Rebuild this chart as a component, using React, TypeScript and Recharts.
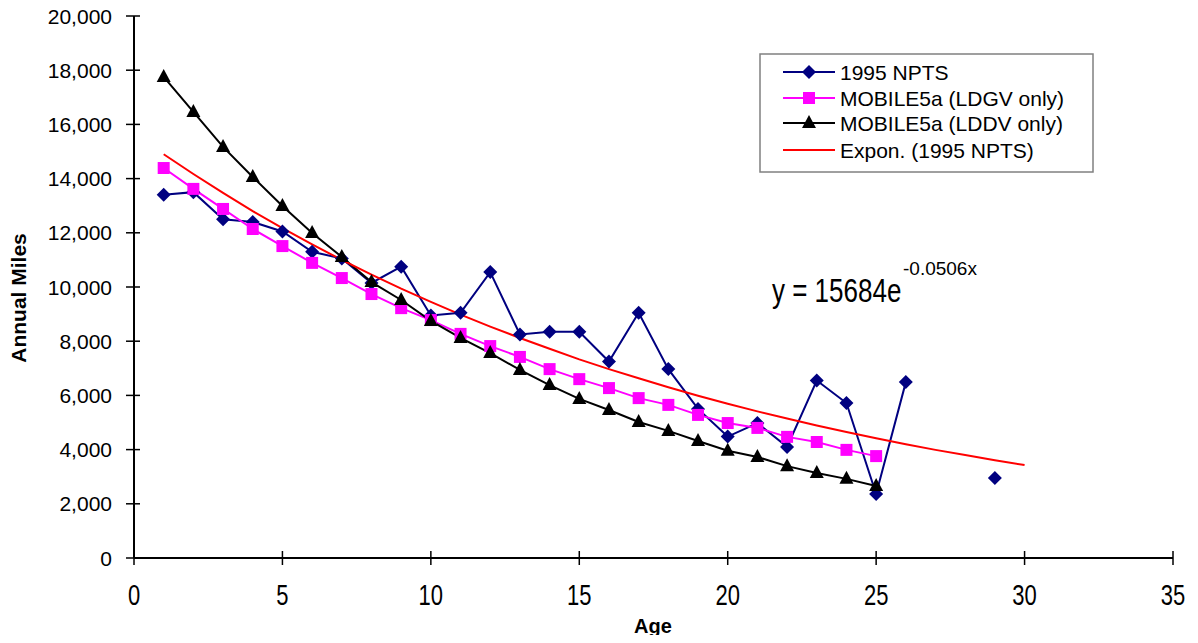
import React from "react";
import { ComposedChart, Line, XAxis, YAxis, Customized } from "recharts";

const FONT = '"Liberation Sans", Arial, sans-serif';

const ages = [1, 2, 3, 4, 5, 6, 7, 8, 9, 10, 11, 12, 13, 14, 15, 16, 17, 18, 19, 20, 21, 22, 23, 24, 25, 26, 27, 28, 29, 30];
const npts = [13400, 13500, 12500, 12400, 12050, 11300, 11050, 10150, 10750, 8950, 9050, 10550, 8250, 8350, 8350, 7250, 9050, 6970, 5500, 4480, 4980, 4100, 6550, 5720, 2360, 6490, null, null, 2950, null];
const ldgv = [14390, 13620, 12880, 12140, 11510, 10890, 10330, 9740, 9220, 8780, 8270, 7820, 7420, 6970, 6600, 6270, 5900, 5650, 5280, 4980, 4800, 4470, 4280, 3990, 3760];
const lddv = [17750, 16460, 15170, 14060, 12990, 11990, 11110, 10180, 9520, 8750, 8120, 7560, 6940, 6380, 5870, 5460, 5020, 4690, 4320, 3960, 3730, 3390, 3140, 2920, 2660];
const trend = [14900, 14170, 13470, 12800, 12170, 11570, 11000, 10460, 9940, 9450, 8980, 8540, 8120, 7720, 7330, 6970, 6630, 6300, 5990, 5690, 5410, 5150, 4890, 4650, 4420, 4200, 3990, 3800, 3610, 3430];

const xTicks = [0, 5, 10, 15, 20, 25, 30, 35];
const yTicks = [0, 2000, 4000, 6000, 8000, 10000, 12000, 14000, 16000, 18000, 20000];

const legendItems = [
  { name: "1995 NPTS", color: "#000080", marker: "diamond" },
  { name: "MOBILE5a (LDGV only)", color: "#FF00FF", marker: "square" },
  { name: "MOBILE5a (LDDV only)", color: "#000000", marker: "triangle" },
  { name: "Expon. (1995 NPTS)", color: "#FF0000", marker: "none" },
];

const data = ages.map((age, i) => ({
  age,
  npts: npts[i] ?? null,
  ldgv: ldgv[i] ?? null,
  lddv: lddv[i] ?? null,
  trend: trend[i] ?? null,
}));

function markerPath(kind: string, cx: number, cy: number) {
  if (kind === "diamond") return `M${cx},${cy - 7}L${cx + 7},${cy}L${cx},${cy + 7}L${cx - 7},${cy}Z`;
  if (kind === "square") return `M${cx - 6},${cy - 6}h12v12h-12Z`;
  if (kind === "triangle") return `M${cx},${cy - 8}L${cx + 7},${cy + 5}L${cx - 7},${cy + 5}Z`;
  return "";
}

const makeDot = (kind: string, color: string) => (p: any) => {
  const { cx, cy, index } = p;
  if (cx == null || cy == null || p.value == null) return <g key={`${kind}-${index}`} />;
  return <path key={`${kind}-${index}`} d={markerPath(kind, cx, cy)} fill={color} />;
};

const XTick = (props: any) => {
  const { x, y, payload } = props;
  const ay = y - 11;
  return (
    <g>
      <line x1={x} x2={x} y1={ay - 7} y2={ay + 7} stroke="#000" strokeWidth={1.5} />
      <text transform={`translate(${x},${ay + 47}) scale(1,1.3)`} textAnchor="middle" fontSize={22} fontFamily={FONT} fill="#000">
        {payload.value}
      </text>
    </g>
  );
};

const YTick = (props: any) => {
  const { x, y, payload } = props;
  const ax = x + 22;
  return (
    <g>
      <line x1={ax - 8} x2={ax + 6} y1={y} y2={y} stroke="#000" strokeWidth={1.5} />
      <text x={x} y={y + 7.5} textAnchor="end" fontSize={21} fontFamily={FONT} fill="#000">
        {payload.value.toLocaleString("en-US")}
      </text>
    </g>
  );
};

const Extras = () => (
  <g fontFamily={FONT}>
    <text x={26} y={298} transform="rotate(-90 26 298)" textAnchor="middle" fontSize={21} fontWeight="bold" fill="#000">
      Annual Miles
    </text>
    <text x={653} y={633} textAnchor="middle" fontSize={20} fontWeight="bold" fill="#000">
      Age
    </text>
    <text transform="translate(772,302) scale(1,1.3)" fontSize={26} fill="#000">
      y = 15684e
    </text>
    <text x={903} y={275} fontSize={19} fill="#000">
      -0.0506x
    </text>
    <g transform="translate(760,54)">
      <rect x={0} y={0} width={333} height={118} fill="#fff" stroke="#808080" strokeWidth={1.5} />
      {legendItems.map((it, i) => {
        const ry = [18, 44, 69, 96][i];
        return (
          <g key={it.name}>
            <line x1={23} x2={75} y1={ry} y2={ry} stroke={it.color} strokeWidth={2} />
            {it.marker !== "none" && <path d={markerPath(it.marker, 49, ry)} fill={it.color} />}
            <text x={80} y={ry + 7.5} fontSize={21} fill="#000">
              {it.name}
            </text>
          </g>
        );
      })}
    </g>
  </g>
);

export default function App() {
  return (
    <div style={{ margin: -8, width: 1198, height: 643 }}>
      <ComposedChart width={1198} height={643} data={data} margin={{ top: 16, right: 25, left: 18, bottom: 35 }}>
        <XAxis
          dataKey="age"
          type="number"
          domain={[0, 35]}
          ticks={xTicks}
          tick={<XTick />}
          tickLine={false}
          tickSize={7}
          tickMargin={4}
          height={50}
          axisLine={{ stroke: "#000", strokeWidth: 2 }}
        />
        <YAxis
          type="number"
          domain={[0, 20000]}
          ticks={yTicks}
          tick={<YTick />}
          tickLine={false}
          tickSize={8}
          tickMargin={14}
          width={116}
          axisLine={{ stroke: "#000", strokeWidth: 2 }}
        />
        <Line dataKey="npts" stroke="#000080" strokeWidth={2} dot={makeDot("diamond", "#000080")} activeDot={false} isAnimationActive={false} connectNulls={false} />
        <Line dataKey="ldgv" stroke="#FF00FF" strokeWidth={2} dot={makeDot("square", "#FF00FF")} activeDot={false} isAnimationActive={false} />
        <Line dataKey="lddv" stroke="#000000" strokeWidth={2} dot={makeDot("triangle", "#000000")} activeDot={false} isAnimationActive={false} />
        <Line dataKey="trend" stroke="#FF0000" strokeWidth={2} dot={false} activeDot={false} isAnimationActive={false} />
        <Customized component={Extras} />
      </ComposedChart>
    </div>
  );
}
